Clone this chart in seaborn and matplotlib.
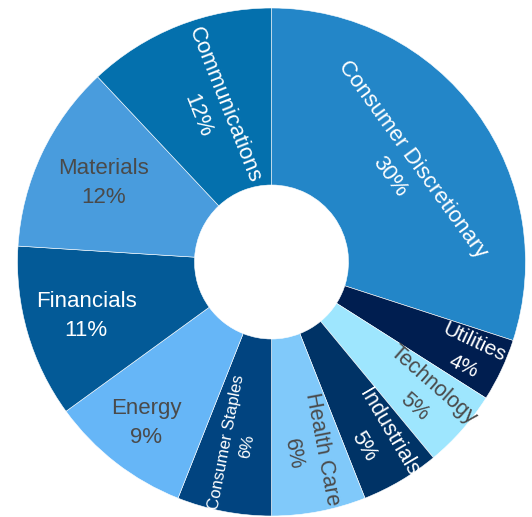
import numpy as np
import matplotlib
matplotlib.use("Agg")
import matplotlib.pyplot as plt
import seaborn as sns

# datos del grafico (sentido horario desde las 12)
sectors = ["Consumer Discretionary", "Utilities", "Technology", "Industrials",
           "Health Care", "Consumer Staples", "Energy", "Financials",
           "Materials", "Communications"]
weights = [30, 4, 5, 5, 6, 6, 9, 11, 12, 12]
pct_labels = ["30%", "4%", "5%", "5%", "6%", "6%", "9%", "11%", "12%", "12%"]

# estilos
slice_colors = ["#2386C8", "#001E50", "#9EE6FE", "#003366", "#80C9FA",
                "#014480", "#66B6F7", "#035A97", "#499CDD", "#0470AD"]
text_colors = ["white", "white", "#4a4a4a", "white", "#4a4a4a",
               "white", "#4a4a4a", "white", "#4a4a4a", "white"]
label_mode = ["tangential", "radial", "radial", "radial", "radial",
              "radial", "horizontal", "horizontal", "horizontal", "radial"]
label_r = [160, 218, 203, 206, 193, 186, 204, 193, 186, 163]
label_size = [16, 15, 15.5, 15.5, 15.5, 12, 16, 16, 16, 16]

sns.set_theme(style="white")
plt.rcParams["font.family"] = ["Liberation Sans", "DejaVu Sans"]

fig = plt.figure(figsize=(5.32, 5.17), dpi=100)
ax = fig.add_axes([0, 0, 1, 1])

outer = 254
inner = 77
wedges, _ = ax.pie(weights, colors=slice_colors, startangle=90, counterclock=False,
                   radius=outer,
                   wedgeprops=dict(width=outer - inner, edgecolor="white", linewidth=0.4))

for w, name, pct, tc, mode, r, fs in zip(wedges, sectors, pct_labels, text_colors,
                                         label_mode, label_r, label_size):
    theta = (w.theta1 + w.theta2) / 2.0
    x = r * np.cos(np.deg2rad(theta))
    y = r * np.sin(np.deg2rad(theta))
    if mode == "horizontal":
        rot = 0
    elif mode == "radial":
        rot = theta
    else:
        rot = theta - 90
    rot = (rot + 180) % 360 - 180
    if rot > 90:
        rot -= 180
    elif rot < -90:
        rot += 180
    ax.text(x, y, name + "\n" + pct, ha="center", va="center", rotation=rot,
            rotation_mode="anchor", color=tc, fontsize=fs, linespacing=1.5,
            multialignment="center")

ax.set_xlim(-271.5, 260.5)
ax.set_ylim(-255, 262)
ax.set_aspect("auto")
ax.axis("off")

fig.savefig("out.png", dpi=100)
